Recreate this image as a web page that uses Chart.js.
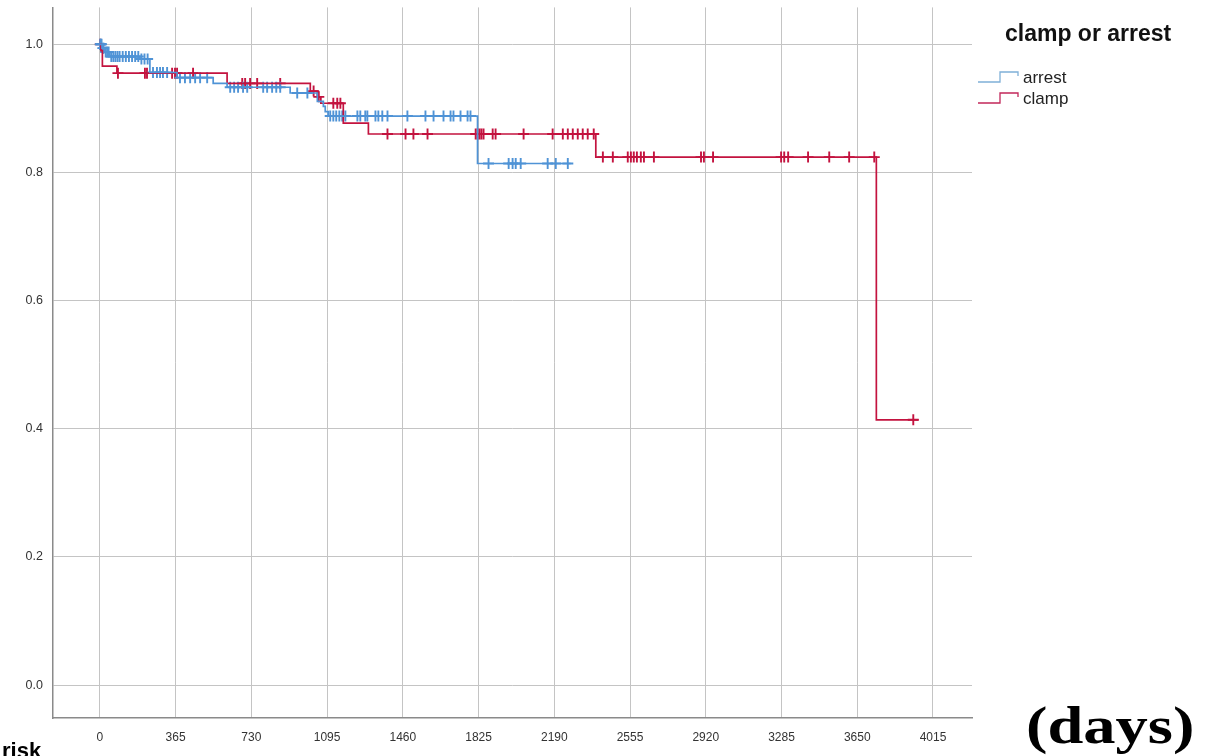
<!DOCTYPE html>
<html>
<head>
<meta charset="utf-8">
<script src="https://cdn.jsdelivr.net/npm/chart.js@4.4.1/dist/chart.umd.min.js"></script>
<style>
  html, body { margin: 0; padding: 0; background: #fff; }
  #wrap { position: relative; width: 1217px; height: 756px; overflow: hidden; }
  #km { position: absolute; left: 0; top: 0; }
  .legend-title { position: absolute; left: 1005px; top: 20px; font: bold 23px "Liberation Sans", Arial, sans-serif; color: #111; white-space: nowrap; }
  .legend-item { position: absolute; left: 978px; font: 17px "Liberation Sans", Arial, sans-serif; color: #222; white-space: nowrap; }
  .legend-item svg { vertical-align: -2px; margin-right: 3px; }
  #days { position: absolute; left: 1026px; top: 696px; font: bold 52px "Liberation Serif", "Times New Roman", serif; color: #000; transform: scaleX(1.24); transform-origin: left top; white-space: nowrap; }
  #risk { position: absolute; left: 2px; top: 738px; font: bold 22px "Liberation Sans", Arial, sans-serif; color: #000; }
</style>
</head>
<body>
<div id="wrap">
  <canvas id="km" width="1217" height="756"></canvas>
  <div class="legend-title">clamp or arrest</div>
  <div class="legend-item" style="top:68px">
    <svg width="42" height="16"><polyline points="0,13 22,13 22,3 40,3 40,7" fill="none" stroke="#7fb0d8" stroke-width="1.3"/></svg>arrest
  </div>
  <div class="legend-item" style="top:89px">
    <svg width="42" height="16"><polyline points="0,13 22,13 22,3 40,3 40,7" fill="none" stroke="#c2275a" stroke-width="1.3"/></svg>clamp
  </div>
  <div id="days">(days)</div>
  <div id="risk">risk</div>
</div>
<script>
// Curva de sobrevivência (tempo em dias, sobrevida acumulada)
const arrestTimes = [0, 10, 24, 48, 193, 241, 372, 546, 613, 917, 1048, 1077, 1086, 1100, 1820, 2269];
const arrestSurv  = [1.0, 0.994, 0.988, 0.981, 0.977, 0.956, 0.948, 0.939, 0.933, 0.924, 0.911, 0.903, 0.895, 0.888, 0.814, 0.814];

const clampTimes = [0, 5, 12, 82, 613, 1014, 1048, 1065, 1173, 1294, 2390, 3742, 3945];
const clampSurv  = [1.0, 0.99, 0.966, 0.955, 0.939, 0.927, 0.918, 0.908, 0.877, 0.86, 0.824, 0.414, 0.414];

// Tempos censurados (marcas "+")
const arrestCensored = [2, 4, 8, 14, 18, 28, 35, 42, 55, 65, 75, 85, 95, 110, 125, 140, 155, 170, 185,
  200, 215, 230, 256, 275, 290, 304, 324, 386, 410, 435, 459, 483, 517, 628, 647, 666, 690, 710,
  787, 806, 830, 850, 869, 951, 1000, 1110, 1125, 1139, 1154, 1168, 1183, 1241, 1255, 1279, 1289,
  1328, 1342, 1361, 1386, 1482, 1569, 1608, 1656, 1690, 1704, 1738, 1772, 1786, 1873, 1970, 1989,
  2004, 2028, 2158, 2197, 2255];
const clampCensored = [2, 87, 217, 227, 348, 362, 372, 449, 686, 700, 724, 758, 869, 1030, 1055,
  1125, 1144, 1159, 1386, 1473, 1511, 1579, 1811, 1820, 1830, 1839, 1849, 1893, 1907, 2042, 2182,
  2231, 2255, 2279, 2303, 2327, 2351, 2380, 2424, 2472, 2544, 2559, 2573, 2588, 2607, 2622, 2670,
  2897, 2911, 2955, 3283, 3298, 3317, 3413, 3515, 3611, 3732, 3920];

// Marcas dos eixos
const xTicks = [0, 365, 730, 1095, 1460, 1825, 2190, 2555, 2920, 3285, 3650, 4015];
const yTicks = [0.0, 0.2, 0.4, 0.6, 0.8, 1.0];

const blue = '#4f93d6';
const red = '#c3133f';

// monta os pontos da curva em degrau
function stepPoints(times, surv) {
    return times.map(function(t, i) { return { x: t, y: surv[i] }; });
}

// valor da curva no tempo t (para posicionar as marcas de censura)
function survAt(times, surv, t) {
    var s = surv[0];
    for (var i = 0; i < times.length; i++) {
        if (times[i] <= t) s = surv[i];
    }
    return s;
}

function censorPoints(cens, times, surv) {
    return cens.map(function(t) { return { x: t, y: survAt(times, surv, t) }; });
}

// tira o espaço extra que o Chart.js reserva para os rótulos nas pontas
function noEdgePadding(scale) {
    scale.paddingTop = 0;
    scale.paddingBottom = 0;
    scale.paddingLeft = 0;
    scale.paddingRight = 0;
}

var ctx = document.getElementById('km').getContext('2d');
var chart = new Chart(ctx, {
    type: 'line',
    data: {
        datasets: [
            { label: 'arrest', data: stepPoints(arrestTimes, arrestSurv), stepped: 'before',
              borderColor: blue, borderWidth: 1.7, pointRadius: 0, fill: false },
            { label: 'clamp', data: stepPoints(clampTimes, clampSurv), stepped: 'before',
              borderColor: red, borderWidth: 1.7, pointRadius: 0, fill: false },
            { label: 'arrest censored', data: censorPoints(arrestCensored, arrestTimes, arrestSurv),
              showLine: false, pointStyle: 'cross', pointRadius: 5.5, pointBorderWidth: 1.9,
              pointBorderColor: blue, borderColor: blue },
            { label: 'clamp censored', data: censorPoints(clampCensored, clampTimes, clampSurv),
              showLine: false, pointStyle: 'cross', pointRadius: 5.5, pointBorderWidth: 1.9,
              pointBorderColor: red, borderColor: red }
        ]
    },
    options: {
        responsive: false,
        animation: false,
        devicePixelRatio: 1,
        layout: { padding: { left: 0, top: 6, right: 245, bottom: 0 } },
        plugins: { legend: { display: false }, tooltip: { enabled: false } },
        scales: {
            x: {
                type: 'linear',
                min: -226,
                max: 4203,
                afterBuildTicks: function(scale) { scale.ticks = xTicks.map(function(v) { return { value: v }; }); },
                afterFit: function(scale) { scale.height = 38; noEdgePadding(scale); },
                grid: { color: '#c4c4c4', lineWidth: 1, drawTicks: false },
                border: { color: '#8a8a8a', width: 1.5 },
                ticks: { padding: 12, color: '#333', font: { family: 'Liberation Sans', size: 12 },
                         maxRotation: 0, callback: function(v) { return String(v); } }
            },
            y: {
                min: -0.0514,
                max: 1.0576,
                afterBuildTicks: function(scale) { scale.ticks = yTicks.map(function(v) { return { value: v }; }); },
                afterFit: function(scale) { scale.width = 53; noEdgePadding(scale); },
                grid: { color: '#c4c4c4', lineWidth: 1, drawTicks: false },
                border: { color: '#8a8a8a', width: 1.5 },
                ticks: { padding: 10, color: '#333', font: { family: 'Liberation Sans', size: 12.5 },
                         callback: function(v) { return v.toFixed(1); } }
            }
        }
    }
});
</script>
</body>
</html>
